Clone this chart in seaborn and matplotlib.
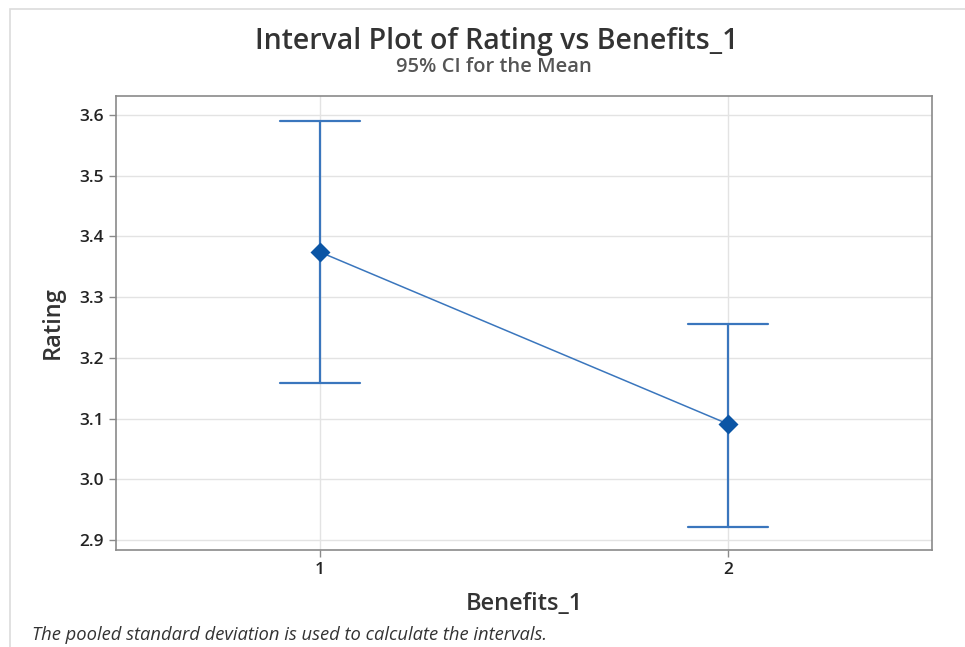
import matplotlib
matplotlib.use("Agg")
import matplotlib.pyplot as plt
import seaborn as sns
import pandas as pd
from matplotlib.patches import Rectangle

# Interval summary per group: lower bound, mean, upper bound of the 95% CI
groups = [1, 2]
ci_lower = [3.158, 2.922]
means = [3.374, 3.091]
ci_upper = [3.590, 3.255]
y_ticks = [2.9, 3.0, 3.1, 3.2, 3.3, 3.4, 3.5, 3.6]

sns.set_theme(style="white")
plt.rcParams["font.family"] = ["Open Sans", "DejaVu Sans"]

# Long-form table: median of (lower, mean, upper) is the mean, 100% interval spans the CI
rows = []
for g, lo, m, hi in zip(groups, ci_lower, means, ci_upper):
    for v in (lo, m, hi):
        rows.append({"Benefits_1": g, "Rating": v})
df = pd.DataFrame(rows)
df_mean = pd.DataFrame({"Benefits_1": groups, "Rating": means})

fig = plt.figure(figsize=(9.65, 6.47), dpi=100)
ax = fig.add_axes([116 / 965, 1 - 550 / 647, (932 - 116) / 965, (550 - 96) / 647])

line_blue = "#3a76bd"
mark_blue = "#0b55a5"

ax.grid(True, color="#e3e3e3", linewidth=1.0, zorder=0)
ax.set_axisbelow(True)

sns.lineplot(data=df_mean, x="Benefits_1", y="Rating", ax=ax,
             color=line_blue, linewidth=1.1, zorder=2)
sns.pointplot(data=df, x="Benefits_1", y="Rating", ax=ax, native_scale=True,
              estimator="median", errorbar=("pi", 100), capsize=0.195,
              linestyle="none", marker="D", markersize=8,
              color=line_blue, err_kws={"linewidth": 1.6, "color": line_blue})
for coll in ax.collections:
    coll.set_facecolor(mark_blue)
    coll.set_edgecolor(mark_blue)
    coll.set_zorder(4)
for ln in ax.lines:
    if ln.get_marker() == "D":
        ln.set_markerfacecolor(mark_blue)
        ln.set_markeredgecolor(mark_blue)
        ln.set_zorder(4)

ax.set_xlim(0.5, 2.5)
ax.set_ylim(2.8835, 3.631)
ax.set_xticks(groups)
ax.set_xticklabels([str(g) for g in groups])
ax.set_yticks(y_ticks)
ax.set_yticklabels([f"{t:.1f}" for t in y_ticks])

for s in ax.spines.values():
    s.set_color("#8a8a8a")
    s.set_linewidth(1.2)
ax.tick_params(axis="both", which="major", direction="out", length=5, width=1,
               color="#8a8a8a", labelsize=12.5, labelcolor="#222222", pad=4,
               bottom=True, left=True)
for lab in ax.get_xticklabels() + ax.get_yticklabels():
    lab.set_fontweight("semibold")

ax.set_xlabel("Benefits_1", fontsize=17, fontweight="semibold",
              color="#333333", labelpad=10)
ax.set_ylabel("Rating", fontsize=17, fontweight="semibold",
              color="#333333", labelpad=10)

fig.text(497 / 965, 1 - 41 / 647, "Interval Plot of Rating vs Benefits_1",
         ha="center", va="center", fontsize=20.5, fontweight="semibold",
         color="#333333")
fig.text(494 / 965, 1 - 67 / 647, "95% CI for the Mean",
         ha="center", va="center", fontsize=14.5, fontweight="semibold",
         color="#555555")
fig.text(32 / 965, 1 - 635 / 647,
         "The pooled standard deviation is used to calculate the intervals.",
         ha="left", va="center", fontsize=13.2, style="italic", color="#333333")

# Outer frame of the graph window
fig.patches.append(Rectangle((10 / 965, -0.1), 1.2, 1 - 9 / 647 + 0.1,
                             transform=fig.transFigure, fill=False,
                             edgecolor="#dcdcdc", linewidth=1.2))

fig.savefig("out.png", dpi=100, facecolor="white")
